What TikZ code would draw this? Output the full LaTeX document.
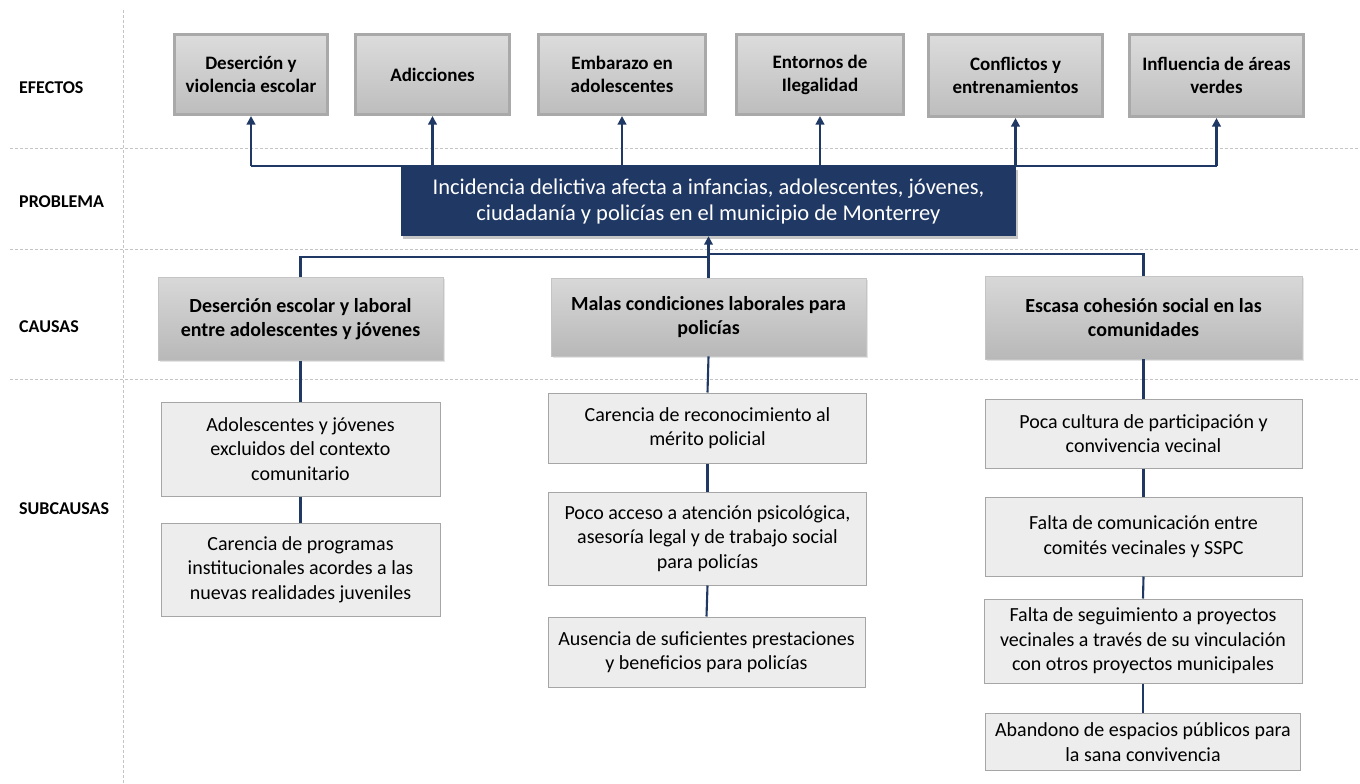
\documentclass[tikz,border=0pt]{standalone}
\usepackage{fontspec}
\setmainfont{Carlito}
\usetikzlibrary{arrows.meta,shadows}
\definecolor{navy}{HTML}{203864}
\definecolor{effborder}{HTML}{A9A9A9}
\definecolor{efftop}{HTML}{DCDCDC}
\definecolor{effbot}{HTML}{BDBDBD}
\definecolor{cautop}{HTML}{D8D8D8}
\definecolor{caubot}{HTML}{B8B8B8}
\definecolor{subfill}{HTML}{EDEDED}
\definecolor{subborder}{HTML}{A6A6A6}
\definecolor{sepcol}{HTML}{C4C4C4}
\tikzset{
  effbox/.style={draw=effborder, line width=3pt, top color=efftop, bottom color=effbot,
    align=center, inner sep=2pt, font=\fontsize{19}{23}\selectfont\bfseries, text=black},
  probbox/.style={fill=navy, text=white, align=center, inner sep=2pt,
    font=\fontsize{22.5}{26}\selectfont,
    drop shadow={opacity=0.45, shadow xshift=2pt, shadow yshift=-3pt}},
  caubox/.style={draw=sepcol, line width=0.8pt, top color=cautop, bottom color=caubot,
    align=center, inner sep=2pt, font=\fontsize{20}{24}\selectfont\bfseries,
    drop shadow={opacity=0.2, shadow xshift=1.5pt, shadow yshift=-1.5pt}},
  subbox/.style={draw=subborder, line width=1pt, fill=subfill, align=center,
    inner sep=2pt, font=\fontsize{20}{24.5}\selectfont},
  lab/.style={anchor=west, inner sep=0pt, font=\fontsize{18}{21}\selectfont\bfseries},
  sepline/.style={draw=sepcol, line width=0.8pt, dash pattern=on 3pt off 2pt},
  conn/.style={draw=navy, line width=2.1pt},
  arr/.style={draw=navy, line width=2.1pt, -{Triangle[width=8.5pt,length=8.5pt]}},
}
\begin{document}
\begin{tikzpicture}[x=1pt,y=-1pt]
\useasboundingbox[fill=white] (0,0) rectangle (1360,784);
% separators
\draw[sepline] (10,148) -- (1360,148);
\draw[sepline] (10,249) -- (1360,249);
\draw[sepline] (10,379) -- (1360,379);
\draw[sepline] (123,10) -- (123,784);
% labels
\node[lab] (lEf) at (19,88) {EFECTOS};
\node[lab] (lPr) at (19,202) {PROBLEMA};
\node[lab] (lCa) at (19,327) {CAUSAS};
\node[lab] (lSu) at (19,509) {SUBCAUSAS};
% effects
\node[effbox, minimum width=153pt, minimum height=80pt] (e1) at (251,74.5) {Deserción y\\violencia escolar};
\node[effbox, minimum width=154pt, minimum height=80pt] (e2) at (432.5,74.5) {Adicciones};
\node[effbox, minimum width=167pt, minimum height=80pt] (e3) at (622,74.5) {Embarazo en\\adolescentes};
\node[effbox, minimum width=167pt, minimum height=80pt] (e4) at (820,74.5) {Entornos de\\Ilegalidad};
\node[effbox, minimum width=174pt, minimum height=82pt] (e5) at (1015.5,75.5) {Conflictos y\\entrenamientos};
\node[effbox, minimum width=174pt, minimum height=82pt] (e6) at (1216.5,75.5) {Influencia de áreas\\verdes};
% problem
\node[probbox, minimum width=615pt, minimum height=69pt] (P) at (708.5,201.5)
  {Incidencia delictiva afecta a infancias, adolescentes, jóvenes,\\ciudadanía y policías en el municipio de Monterrey};
% causes
\node[caubox, minimum width=285pt, minimum height=83pt] (C1) at (300.5,319) {Deserción escolar y laboral\\entre adolescentes y jóvenes};
\node[caubox, minimum width=315pt, minimum height=78pt] (C2) at (708.5,317) {Malas condiciones laborales para\\policías};
\node[caubox, minimum width=317pt, minimum height=83pt] (C3) at (1143.5,317.5) {Escasa cohesión social en las\\comunidades};
% subcauses
\node[subbox, minimum width=279pt, minimum height=94pt] (S1a) at (300.5,449) {Adolescentes y jóvenes\\excluidos del contexto\\comunitario};
\node[subbox, minimum width=279pt, minimum height=93pt] (S1b) at (300.5,569.5) {Carencia de programas\\institucionales acordes a las\\nuevas realidades juveniles};
\node[subbox, minimum width=318pt, minimum height=70pt] (S2a) at (707.5,428) {Carencia de reconocimiento al\\mérito policial};
\node[subbox, minimum width=318pt, minimum height=93pt] (S2b) at (707.5,538.5) {Poco acceso a atención psicológica,\\asesoría legal y de trabajo social\\para policías};
\node[subbox, minimum width=317pt, minimum height=70pt] (S2c) at (706.5,652) {Ausencia de suficientes prestaciones\\y beneficios para policías};
\node[subbox, minimum width=317pt, minimum height=69pt] (S3a) at (1143.5,433.5) {Poca cultura de participación y\\convivencia vecinal};
\node[subbox, minimum width=317pt, minimum height=79pt] (S3b) at (1143.5,536.5) {Falta de comunicación entre\\comités vecinales y SSPC};
\node[subbox, minimum width=318pt, minimum height=84pt] (S3c) at (1143,641) {Falta de seguimiento a proyectos\\vecinales a través de su vinculación\\con otros proyectos municipales};
\node[subbox, minimum width=315pt, minimum height=57pt] (S3d) at (1143,742) {Abandono de espacios públicos para\\la sana convivencia};
% effect connectors
\coordinate (hy) at (0,166);
\draw[conn] (e1.south |- hy) -- (e6.south |- hy);
\foreach \e in {e1,e2,e3,e4,e5,e6}{
  \draw[arr] (\e.south |- hy) -- (\e.south);
}
% cause connectors
\coordinate (by1) at (0,257);
\coordinate (by2) at (0,254);
\draw[conn] (C1.north) -- (C1.north |- by1) -- (C2.north |- by1);
\draw[conn] (C3.north) -- (C3.north |- by2) -- (C2.north |- by2);
\draw[arr] (C2.north) -- (P.south);
% subcause connectors
\draw[conn] (C1.south) -- (S1a.north);
\draw[conn] (S1a.south) -- (S1b.north);
\draw[conn] (C2.south) -- (S2a.north);
\draw[conn] (S2a.south) -- (S2b.north);
\draw[conn] (S2b.south) -- (S2c.north);
\draw[conn] (C3.south) -- (S3a.north);
\draw[conn] (S3a.south) -- (S3b.north);
\draw[conn] (S3b.south) -- (S3c.north);
\draw[conn] (S3c.south) -- (S3d.north);
\end{tikzpicture}
\end{document}
